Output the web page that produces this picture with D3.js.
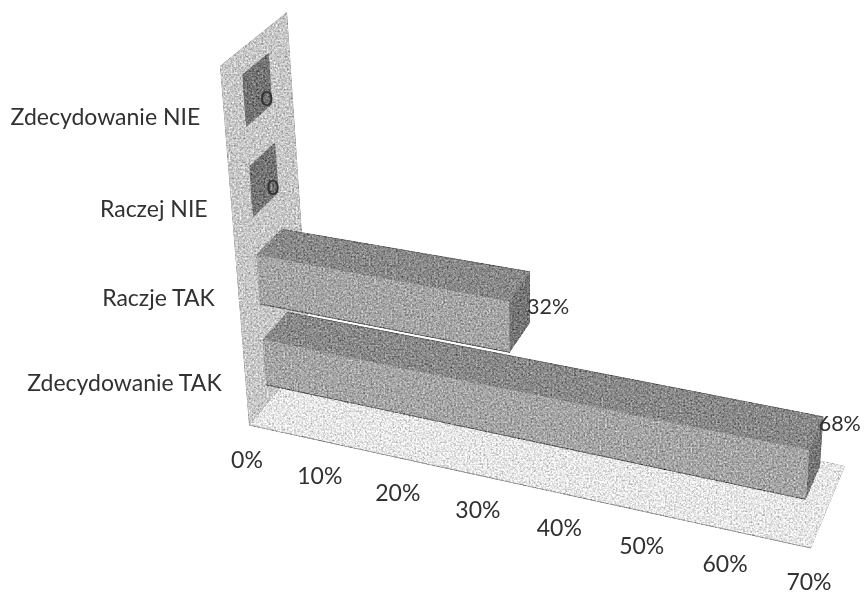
<!DOCTYPE html>
<html><head><meta charset="utf-8">
<script src="https://cdn.jsdelivr.net/npm/d3@7"></script>
<style>html,body{margin:0;background:#fff}svg{display:block}text{font-family:Lato,"Open Sans",sans-serif;fill:#303030}</style>
</head><body><svg id="c" width="864" height="595"></svg>
<script>
const categories = ["Zdecydowanie TAK","Raczje TAK","Raczej NIE","Zdecydowanie NIE"];
const values = [0.68,0.32,0,0];
const valueLabels = ["68%","32%","0","0"];
const ticks = [0,0.1,0.2,0.3,0.4,0.5,0.6,0.7];
const tickLabels = ["0%","10%","20%","30%","40%","50%","60%","70%"];

const W=864,H=595,svg=d3.select("#c");
const C={f0b:[249,425],f1b:[811,548],b0b:[310,353],b1b:[845,466],
         f0t:[220,66], f1t:[835,162],b0t:[287,12], b1t:[876,72]};
const uS=d3.scalePow().exponent(1.05).domain([0,0.7]).range([0,1]);
const wWarp=d3.scalePow().exponent(1.08).domain([0,1]).range([0,1]);
const band=d3.scaleBand().domain(categories).range([0,1]).paddingInner(0.43).paddingOuter(0.27);
const depth=d3.scaleLinear().domain([0,1]).range([0.3,0.7]);
const lerp=(a,b,t)=>[a[0]+(b[0]-a[0])*t,a[1]+(b[1]-a[1])*t];
function P(u,v,w){
  const f=lerp(lerp(C.f0b,C.f1b,u),lerp(C.f0t,C.f1t,u),w);
  const b=lerp(lerp(C.b0b,C.b1b,u),lerp(C.b0t,C.b1t,u),w);
  return lerp(f,b,v);
}
const defs=svg.append("defs");
const fl=defs.append("filter").attr("id","grain").attr("x","-2%").attr("y","-2%").attr("width","104%").attr("height","104%")
  .attr("color-interpolation-filters","sRGB");
fl.append("feTurbulence").attr("type","fractalNoise").attr("baseFrequency","0.55").attr("numOctaves",2).attr("seed",7).attr("result","n");
fl.append("feColorMatrix").attr("in","n").attr("type","matrix")
  .attr("values","0.6 0.6 0 0 0 0.6 0.6 0 0 0 0.6 0.6 0 0 0 0 0 0 0 1").attr("result","g");
fl.append("feComposite").attr("in","SourceGraphic").attr("in2","g").attr("operator","arithmetic")
  .attr("k1",0).attr("k2",1).attr("k3",0.8).attr("k4",-0.47).attr("result","m");
fl.append("feComposite").attr("in","m").attr("in2","SourceAlpha").attr("operator","in").attr("result","o");
fl.append("feGaussianBlur").attr("in","o").attr("stdDeviation",0.55);
defs.append("filter").attr("id","soft").append("feGaussianBlur").attr("stdDeviation",0.35);

const line=d3.line();
const poly=(g,pts,fill)=>g.append("path").attr("d",line(pts)+"Z").attr("fill",fill);
const g=svg.append("g").attr("filter","url(#grain)");
poly(g,[P(0,1,1),P(0,0,1),P(0,0,0),P(0,1,0)],"#c4c4c4");
poly(g,[P(0,0,0),P(1,0,0),P(1,1,0),P(0,1,0)],"#e4e4e4");
g.append("path").attr("d",line([P(0,0,0),P(1,0,0)])).attr("stroke","#999").attr("stroke-width",1).attr("fill","none");

const order=d3.range(categories.length).reverse();
order.forEach(i=>{
  const c=categories[i],u=uS(values[i]);
  const w0=wWarp(band(c)),w1=wWarp(band(c)+band.bandwidth());
  const v0=depth(0),v1=depth(1);
  if(values[i]===0){
    poly(g,[P(0,v0,w1),P(0,v1,w1),P(0,v1,w0),P(0,v0,w0)],"#717171");
  }else{
    poly(g,[P(0,v0,w1),P(0,v1,w1),P(u,v1,w1),P(u,v0,w1)],"#868686");
    poly(g,[P(u,v0,w1),P(u,v1,w1),P(u,v1,w0),P(u,v0,w0)],"#727272");
    poly(g,[P(0,v0,w0),P(u,v0,w0),P(u,v0,w1),P(0,v0,w1)],"#a2a2a2");
    g.append("path").attr("d",line([P(0,v0,w0),P(u,v0,w0)])).attr("stroke","#555").attr("stroke-width",1).attr("fill","none");
    g.append("path").attr("d",line([P(0,v1,w1),P(u,v1,w1)])).attr("stroke","#666").attr("stroke-width",1).attr("fill","none");
  }
});

const t=svg.append("g").attr("filter","url(#soft)").style("font-size","23px");
ticks.forEach((d,i)=>{
  const p=P(uS(d),0,0);
  t.append("text").attr("x",p[0]-2).attr("y",p[1]+43-uS(d)*1).attr("text-anchor","middle").text(tickLabels[i]);
});
categories.forEach(c=>{
  const w=wWarp(band(c)+band.bandwidth()/2),p=P(0,0,w);
  t.append("text").attr("x",p[0]-24).attr("y",p[1]+7).attr("text-anchor","end").text(c);
});
const labelDy=[-18,10,21,21];
values.forEach((d,i)=>{
  const c=categories[i],p=P(uS(d),depth(1),wWarp(band(c)+band.bandwidth()/2));
  t.append("text").style("font-size","21.5px").attr("x",p[0]-(d?3:10)).attr("y",p[1]+7+labelDy[i]).text(valueLabels[i]);
});
</script></body></html>
